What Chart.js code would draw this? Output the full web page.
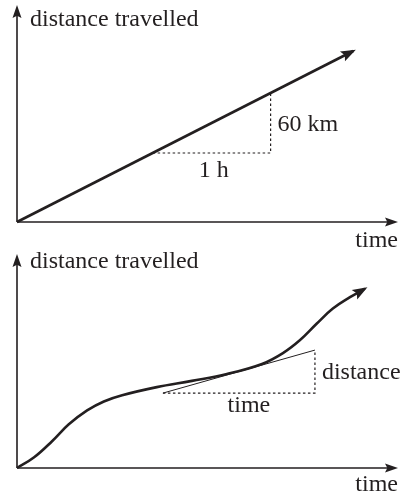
<!DOCTYPE html>
<html>
<head>
<meta charset="utf-8">
<script src="https://cdn.jsdelivr.net/npm/chart.js@4.4.1/dist/chart.umd.min.js"></script>
<style>
  body { margin: 0; background: #fff; }
  canvas { display: block; }
</style>
</head>
<body>
<canvas id="topChart" width="402" height="250"></canvas>
<canvas id="bottomChart" width="402" height="243"></canvas>
<script>
// top graph: constant speed (time in h, distance in km)
const lineTime = [0, 2.85];
const lineDistance = [0, 171];
const stepTime = [1.15, 2.15, 2.15];
const stepDistance = [69, 69, 129];

// bottom graph: changing speed (arbitrary units)
const curveTime = [0, 0.45, 0.92, 1.36, 1.84, 2.28, 2.76, 3.67, 4.59, 5.51, 6.43, 6.98, 7.43, 7.87, 8.29, 8.74, 9.13];
const curveDistance = [0, 0.5, 1.25, 2.04, 2.69, 3.11, 3.4, 3.78, 4.07, 4.39, 4.86, 5.37, 5.98, 6.75, 7.45, 7.98, 8.38];
const tangentTime = [3.83, 7.82];
const tangentDistance = [3.5, 5.51];
const triTime = [3.83, 7.82, 7.82];
const triDistance = [3.5, 3.5, 5.51];

// labels
const yTitle = 'distance travelled';
const xTitle = 'time';
const topRun = '1 h', topRise = '60 km';
const bottomRun = 'time', bottomRise = 'distance';

const ink = '#231f20';
const serif = '24px "Liberation Serif", "Times New Roman", serif';

function pts(xs, ys) {
  return xs.map((x, i) => ({ x: x, y: ys[i] }));
}

function arrowHead(ctx, x0, y0, x1, y1, len, half) {
  const a = Math.atan2(y1 - y0, x1 - x0);
  ctx.save();
  ctx.translate(x1, y1);
  ctx.rotate(a);
  ctx.beginPath();
  ctx.moveTo(0, 0);
  ctx.lineTo(-len, -half);
  ctx.lineTo(-len * 0.82, 0);
  ctx.lineTo(-len, half);
  ctx.closePath();
  ctx.fill();
  ctx.restore();
}

const sketch = {
  id: 'sketch',
  afterDatasetsDraw(chart, args, o) {
    const ctx = chart.ctx;
    const { left, right, top, bottom } = chart.chartArea;
    ctx.save();
    ctx.strokeStyle = ink;
    ctx.fillStyle = ink;

    // axes
    ctx.lineWidth = 1.6;
    ctx.beginPath();
    ctx.moveTo(left, bottom);
    ctx.lineTo(right - 6, bottom);
    ctx.moveTo(left, bottom);
    ctx.lineTo(left, top + 6);
    ctx.stroke();
    arrowHead(ctx, left, bottom, right, bottom, 13, 4.5);
    arrowHead(ctx, left, bottom, left, top, 13, 4.5);

    // arrow at end of the graph line, along its end tangent
    const d = chart.getDatasetMeta(0).data;
    const p = d[d.length - 1];
    let q = d[d.length - 2];
    if (p.cp1x !== undefined && Math.hypot(p.cp1x - p.x, p.cp1y - p.y) > 1) {
      q = { x: p.cp1x, y: p.cp1y };
    }
    const L = Math.hypot(p.x - q.x, p.y - q.y);
    const tx = p.x + (p.x - q.x) / L * 3, ty = p.y + (p.y - q.y) / L * 3;
    arrowHead(ctx, q.x, q.y, tx, ty, 15, 5.5);

    // text
    ctx.font = serif;
    ctx.textBaseline = 'alphabetic';
    ctx.textAlign = 'left';
    ctx.fillText(yTitle, left + 13, top + o.yTitleDy);
    ctx.textAlign = 'right';
    ctx.fillText(xTitle, right, bottom + o.xTitleDy);

    const t = chart.getDatasetMeta(o.stepIndex).data;
    ctx.textAlign = 'center';
    ctx.fillText(o.run, (t[0].x + t[1].x) / 2 + o.runDx, t[1].y + o.runDy);
    ctx.textAlign = 'left';
    ctx.fillText(o.rise, t[1].x + 7, (t[1].y + t[2].y) / 2 + o.riseDy);
    ctx.restore();
  }
};

function baseOptions(pad, xmax, ymax, labels) {
  return {
    responsive: false,
    animation: false,
    events: [],
    layout: { padding: pad },
    scales: {
      x: { type: 'linear', display: false, min: 0, max: xmax },
      y: { type: 'linear', display: false, min: 0, max: ymax }
    },
    plugins: {
      legend: { display: false },
      tooltip: { enabled: false },
      sketch: labels
    }
  };
}

new Chart(document.getElementById('topChart'), {
  type: 'line',
  data: {
    datasets: [
      {
        data: pts(lineTime, lineDistance),
        borderColor: ink, borderWidth: 2.6, pointRadius: 0, tension: 0, clip: false
      },
      {
        data: pts(stepTime, stepDistance),
        borderColor: ink, borderWidth: 1.2, borderDash: [2.5, 2.5], pointRadius: 0, tension: 0
      }
    ]
  },
  options: baseOptions({ left: 17, right: 4, top: 5, bottom: 28 }, 3.23, 217, {
    yTitleDy: 21, xTitleDy: 25, stepIndex: 1,
    run: topRun, runDx: 2, runDy: 24,
    rise: topRise, riseDy: 8
  }),
  plugins: [sketch]
});

new Chart(document.getElementById('bottomChart'), {
  type: 'line',
  data: {
    datasets: [
      {
        data: pts(curveTime, curveDistance),
        borderColor: ink, borderWidth: 2.6, pointRadius: 0,
        tension: 0.4, clip: false
      },
      {
        data: pts(tangentTime, tangentDistance),
        borderColor: ink, borderWidth: 1, pointRadius: 0, tension: 0
      },
      {
        data: pts(triTime, triDistance),
        borderColor: ink, borderWidth: 1.2, borderDash: [2.5, 2.5], pointRadius: 0, tension: 0
      }
    ]
  },
  options: baseOptions({ left: 17, right: 4, top: 4, bottom: 25 }, 10, 10, {
    yTitleDy: 14, xTitleDy: 23, stepIndex: 2,
    run: bottomRun, runDx: 10, runDy: 19,
    rise: bottomRise, riseDy: 7
  }),
  plugins: [sketch]
});
</script>
</body>
</html>
